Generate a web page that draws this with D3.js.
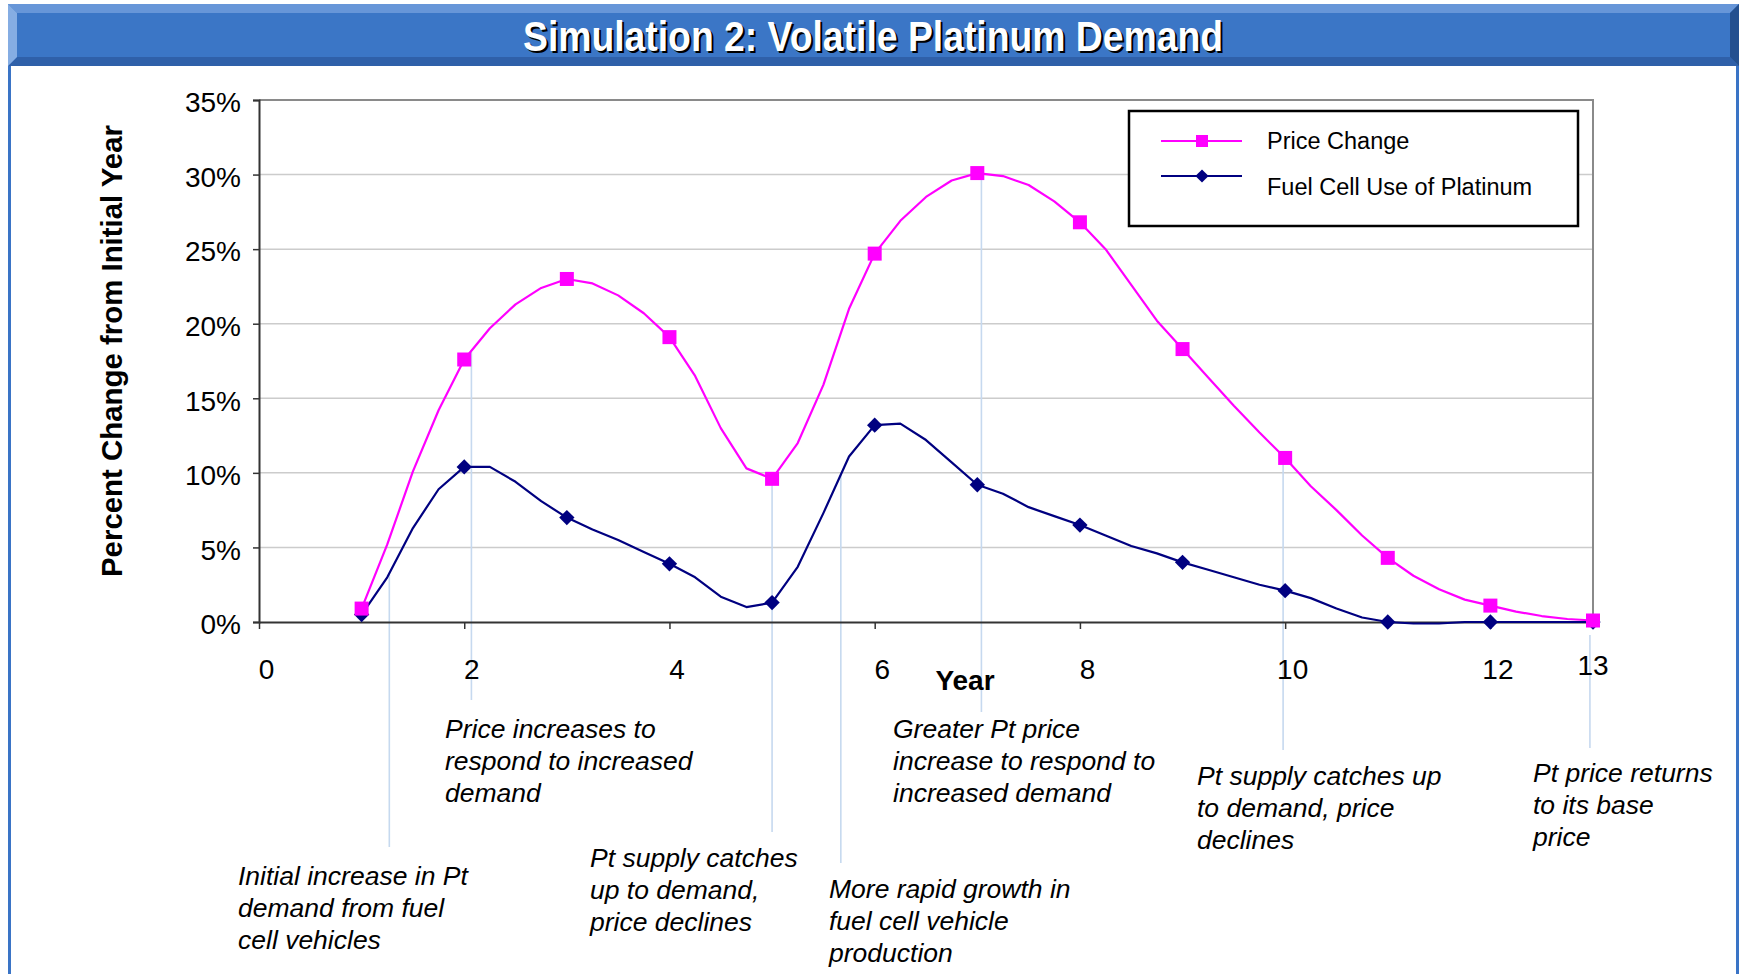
<!DOCTYPE html>
<html lang="en">
<head>
<meta charset="utf-8">
<script src="https://d3js.org/d3.v7.min.js"></script>
<style>
  body { margin: 0; background: #fff; }
  svg { display: block; font-family: "Liberation Sans", Arial, sans-serif; }
</style>
</head>
<body>
<script>
// ---- data ----
var markerYears = [1, 2, 3, 4, 5, 6, 7, 8, 9, 10, 11, 12, 13];
var priceMarkers = [0.9, 17.6, 23.0, 19.1, 9.6, 24.7, 30.1, 26.8, 18.3, 11.0, 4.3, 1.1, 0.1];
var fuelMarkers = [0.5, 10.4, 7.0, 3.9, 1.3, 13.2, 9.2, 6.5, 4.0, 2.1, 0.0, 0.0, 0.0];

// simulation output between the yearly markers (quarter years)
var traceYears = [1, 1.25, 1.5, 1.75, 2, 2.25, 2.5, 2.75, 3, 3.25, 3.5, 3.75, 4, 4.25, 4.5, 4.75,
                  5, 5.25, 5.5, 5.75, 6, 6.25, 6.5, 6.75, 7, 7.25, 7.5, 7.75, 8, 8.25, 8.5, 8.75,
                  9, 9.25, 9.5, 9.75, 10, 10.25, 10.5, 10.75, 11, 11.25, 11.5, 11.75, 12, 12.25, 12.5, 12.75, 13];
var priceTrace = [0.9, 5.2, 10.1, 14.2, 17.6, 19.7, 21.3, 22.4, 23.0, 22.7, 21.9, 20.7, 19.1, 16.5, 13.0, 10.3,
                  9.6, 12.0, 15.9, 21.0, 24.7, 26.9, 28.5, 29.6, 30.1, 29.9, 29.3, 28.2, 26.8, 25.0, 22.6, 20.2,
                  18.3, 16.4, 14.5, 12.7, 11.0, 9.1, 7.5, 5.8, 4.3, 3.1, 2.2, 1.5, 1.1, 0.7, 0.4, 0.2, 0.1];
var fuelTrace = [0.5, 3.0, 6.3, 8.9, 10.4, 10.4, 9.4, 8.1, 7.0, 6.2, 5.5, 4.7, 3.9, 3.0, 1.7, 1.0,
                 1.3, 3.7, 7.3, 11.1, 13.2, 13.3, 12.2, 10.7, 9.2, 8.6, 7.7, 7.1, 6.5, 5.8, 5.1, 4.6,
                 4.0, 3.5, 3.0, 2.5, 2.1, 1.6, 0.9, 0.3, 0.0, -0.1, -0.1, 0.0, 0.0, 0.0, 0.0, 0.0, 0.0];

var xTicks = [0, 2, 4, 6, 8, 10, 12];
var yTicks = [0, 5, 10, 15, 20, 25, 30, 35];
var seriesNames = ["Price Change", "Fuel Cell Use of Platinum"];

var notes = [
  ["Initial increase in Pt", "demand from fuel", "cell vehicles"],
  ["Price increases to", "respond to increased", "demand"],
  ["Pt supply catches", "up to demand,", "price declines"],
  ["More rapid growth in", "fuel cell vehicle", "production"],
  ["Greater Pt price", "increase to respond to", "increased demand"],
  ["Pt supply catches up", "to demand, price", "declines"],
  ["Pt price returns", "to its base", "price"]
];

// ---- layout ----
var W = 1742, H = 974;
var PINK = "#ff00ff", NAVY = "#000080", FRAME = "#3a74c6";

var svg = d3.select("body").append("svg")
    .attr("width", W)
    .attr("height", H);

var x = d3.scaleLinear().domain([0, 13]).range([259, 1593]);
var y = d3.scaleLinear().domain([0, 35]).range([622, 100]);

// frame down the sides
svg.append("rect").attr("x", 8).attr("y", 4).attr("width", 3).attr("height", H).attr("fill", FRAME);
svg.append("rect").attr("x", 1736).attr("y", 4).attr("width", 3).attr("height", H).attr("fill", FRAME);

// title bar with bevels
var bar = svg.append("g");
bar.append("rect").attr("x", 8).attr("y", 4).attr("width", 1731).attr("height", 62).attr("fill", "#3b76c6");
var bx0 = 8, bx1 = 1739, by0 = 4, by1 = 66, bv = 9;
bar.append("polygon").attr("fill", "#6796d8")
   .attr("points", [[bx0, by0], [bx1, by0], [bx1 - bv, by0 + bv], [bx0 + bv, by0 + bv]].join(" "));
bar.append("polygon").attr("fill", "#2f60a9")
   .attr("points", [[bx0, by1], [bx1, by1], [bx1 - bv, by1 - bv], [bx0 + bv, by1 - bv]].join(" "));
bar.append("polygon").attr("fill", "#85ade3")
   .attr("points", [[bx0, by0], [bx0 + bv, by0 + bv], [bx0 + bv, by1 - bv], [bx0, by1]].join(" "));
bar.append("polygon").attr("fill", "#24508f")
   .attr("points", [[bx1, by0], [bx1 - bv, by0 + bv], [bx1 - bv, by1 - bv], [bx1, by1]].join(" "));

var title = "Simulation 2: Volatile Platinum Demand";
bar.append("text")
   .attr("x", 875).attr("y", 53)
   .attr("text-anchor", "middle")
   .attr("font-size", 42).attr("font-weight", "bold")
   .attr("textLength", 700).attr("lengthAdjust", "spacingAndGlyphs")
   .attr("fill", "#000")
   .text(title);
bar.append("text")
   .attr("x", 873).attr("y", 51)
   .attr("text-anchor", "middle")
   .attr("font-size", 42).attr("font-weight", "bold")
   .attr("textLength", 700).attr("lengthAdjust", "spacingAndGlyphs")
   .attr("fill", "#fff")
   .text(title);

// gridlines
svg.append("g").selectAll("line")
   .data(yTicks.filter(function (d) { return d > 0 && d < 35; }))
   .join("line")
   .attr("x1", x(0)).attr("x2", x(13))
   .attr("y1", function (d) { return y(d); })
   .attr("y2", function (d) { return y(d); })
   .attr("stroke", "#cccccc").attr("stroke-width", 1.5);

// top and right border of the plot
svg.append("path")
   .attr("d", "M" + x(0) + "," + y(35) + "H" + x(13) + "V" + y(0))
   .attr("fill", "none").attr("stroke", "#8a8a8a").attr("stroke-width", 2);

// leader lines from curves to the notes
var leaders = [
  { yr: 1.27, top: 575, bottom: 847 },
  { yr: 2.07, top: 352, bottom: 700 },
  { yr: 5.0,  top: 478, bottom: 832 },
  { yr: 5.67, top: 473, bottom: 863 },
  { yr: 7.04, top: 175, bottom: 712 },
  { yr: 9.98, top: 460, bottom: 750 },
  { yr: 12.97, top: 635, bottom: 748 }
];
svg.append("g").selectAll("line")
   .data(leaders)
   .join("line")
   .attr("x1", function (d) { return x(d.yr); })
   .attr("x2", function (d) { return x(d.yr); })
   .attr("y1", function (d) { return d.top; })
   .attr("y2", function (d) { return d.bottom; })
   .attr("stroke", "#c6d9ef").attr("stroke-width", 1.6);

// axes
var yAxis = svg.append("g")
   .attr("transform", "translate(" + x(0) + ",0)")
   .call(d3.axisLeft(y).tickValues(yTicks).tickSize(6).tickPadding(12)
         .tickFormat(function (d) { return d + "%"; }));
yAxis.select(".domain").attr("stroke", "#333").attr("stroke-width", 2);
yAxis.selectAll(".tick line").attr("stroke", "#333").attr("stroke-width", 1.5);
yAxis.selectAll("text")
   .attr("font-size", 28).attr("fill", "#000")
   .attr("font-family", "Liberation Sans, Arial, sans-serif")
   .attr("dy", "0.42em");

var xAxis = svg.append("g")
   .attr("transform", "translate(0," + y(0) + ")")
   .call(d3.axisBottom(x).tickValues(xTicks).tickSize(7).tickPadding(30).tickSizeOuter(0));
xAxis.select(".domain").attr("stroke", "#333").attr("stroke-width", 2);
xAxis.selectAll(".tick line").attr("stroke", "#333").attr("stroke-width", 1.5);
xAxis.selectAll("text")
   .attr("font-size", 28).attr("fill", "#000")
   .attr("font-family", "Liberation Sans, Arial, sans-serif")
   .attr("dx", 7);

svg.append("text")
   .attr("x", x(13)).attr("y", 675)
   .attr("text-anchor", "middle").attr("font-size", 28)
   .text("13");

svg.append("text")
   .attr("x", 965).attr("y", 690)
   .attr("text-anchor", "middle")
   .attr("font-size", 28).attr("font-weight", "bold")
   .text("Year");

svg.append("text")
   .attr("transform", "translate(122,351) rotate(-90)")
   .attr("text-anchor", "middle")
   .attr("font-size", 30).attr("font-weight", "bold")
   .attr("textLength", 452).attr("lengthAdjust", "spacingAndGlyphs")
   .text("Percent Change from Initial Year");

// series lines
var line = d3.line()
   .x(function (d) { return x(d[0]); })
   .y(function (d) { return y(d[1]); });

svg.append("path")
   .datum(d3.zip(traceYears, fuelTrace))
   .attr("d", line)
   .attr("fill", "none").attr("stroke", NAVY).attr("stroke-width", 2.2)
   .attr("stroke-linejoin", "round");

svg.append("path")
   .datum(d3.zip(traceYears, priceTrace))
   .attr("d", line)
   .attr("fill", "none").attr("stroke", PINK).attr("stroke-width", 2.2)
   .attr("stroke-linejoin", "round");

// markers
var diamond = d3.symbol().type(d3.symbolDiamond2).size(150);
svg.append("g").selectAll("path")
   .data(d3.zip(markerYears, fuelMarkers))
   .join("path")
   .attr("transform", function (d) { return "translate(" + x(d[0]) + "," + y(d[1]) + ")"; })
   .attr("d", diamond)
   .attr("fill", NAVY);

svg.append("g").selectAll("rect")
   .data(d3.zip(markerYears, priceMarkers))
   .join("rect")
   .attr("x", function (d) { return x(d[0]) - 7; })
   .attr("y", function (d) { return y(d[1]) - 7; })
   .attr("width", 14).attr("height", 14)
   .attr("fill", PINK);

// legend
var legend = svg.append("g");
legend.append("rect")
   .attr("x", 1129).attr("y", 111).attr("width", 449).attr("height", 115)
   .attr("fill", "#fff").attr("stroke", "#000").attr("stroke-width", 2.5);
var legendRows = [
  { name: seriesNames[0], color: PINK, ly: 141, ty: 149 },
  { name: seriesNames[1], color: NAVY, ly: 176, ty: 195 }
];
legendRows.forEach(function (r, i) {
  legend.append("line")
     .attr("x1", 1161).attr("x2", 1242).attr("y1", r.ly).attr("y2", r.ly)
     .attr("stroke", r.color).attr("stroke-width", 2);
  if (i === 0) {
    legend.append("rect").attr("x", 1196).attr("y", r.ly - 6).attr("width", 12).attr("height", 12)
       .attr("fill", r.color);
  } else {
    legend.append("path").attr("transform", "translate(1202," + r.ly + ")")
       .attr("d", d3.symbol().type(d3.symbolDiamond2).size(110)).attr("fill", r.color);
  }
  legend.append("text")
     .attr("x", 1267).attr("y", r.ty)
     .attr("font-size", 23.5).attr("fill", "#000")
     .text(r.name);
});

// notes below the axis
var notePos = [
  { x: 238, y: 885 },
  { x: 445, y: 738 },
  { x: 590, y: 867 },
  { x: 829, y: 898 },
  { x: 893, y: 738 },
  { x: 1197, y: 785 },
  { x: 1533, y: 782 }
];
notes.forEach(function (lines, i) {
  var t = svg.append("text")
     .attr("x", notePos[i].x).attr("y", notePos[i].y)
     .attr("font-size", 26.5).attr("font-style", "italic").attr("fill", "#000");
  lines.forEach(function (s, j) {
    t.append("tspan").attr("x", notePos[i].x).attr("dy", j === 0 ? 0 : 32).text(s);
  });
});
</script>
</body>
</html>
